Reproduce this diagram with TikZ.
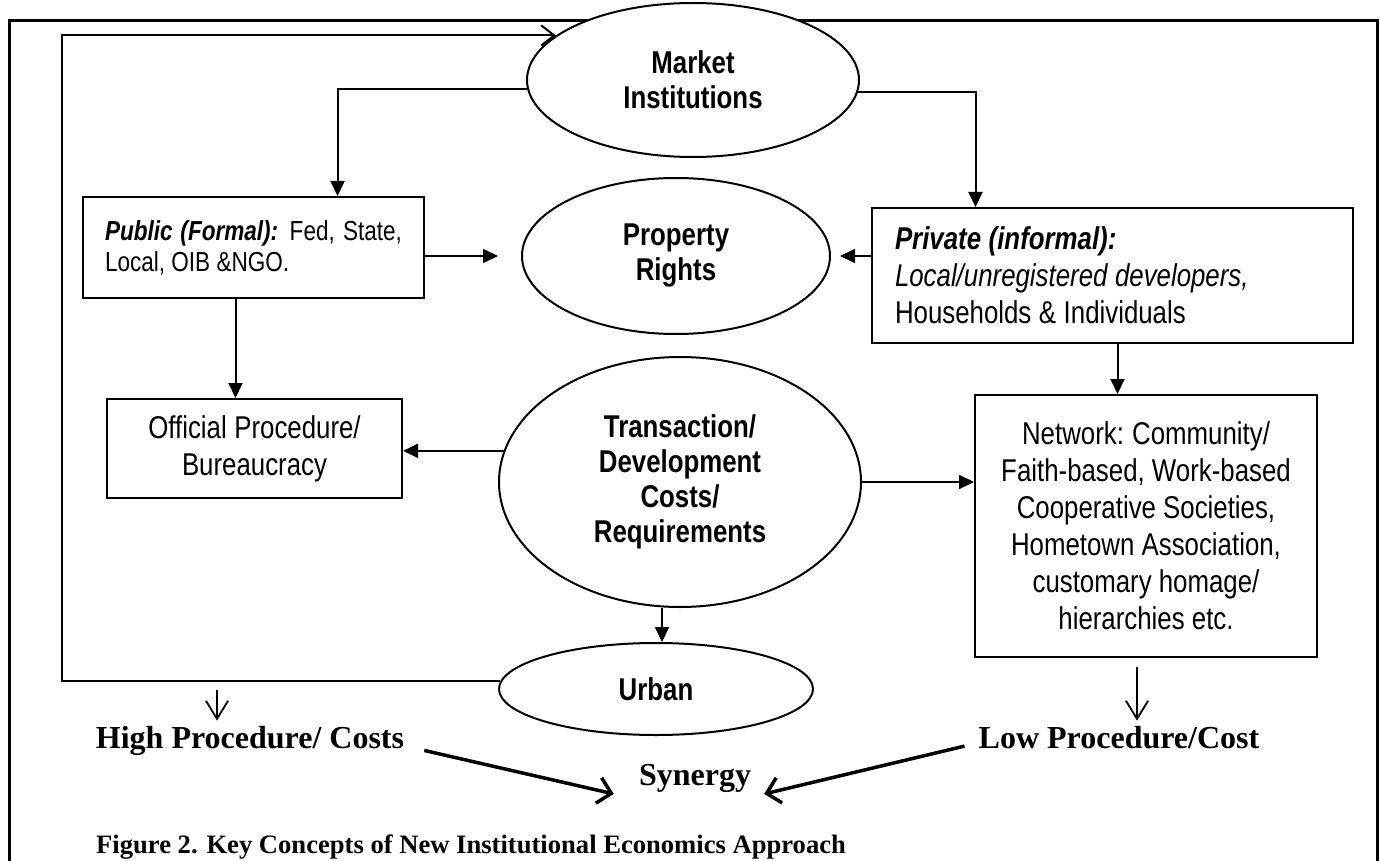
\documentclass[tikz,border=0pt]{standalone}
\usepackage{fontspec}
\newfontfamily\narrowsans{Liberation Sans}[FakeStretch=0.82]
\newfontfamily\timesfont{Liberation Serif}
\usetikzlibrary{shapes.geometric,arrows.meta}
\newcommand\tightsp{\spaceskip=0.24em plus 0.1em minus 0.05em\xspaceskip=0.26em plus 0.1em\relax}

\begin{document}
\begin{tikzpicture}
            [x=1pt, y=-1pt,
            every node/.style={inner sep=0pt},
            ellbox/.style={ellipse, draw=black, line width=2pt, fill=white, align=center,
                font=\narrowsans\bfseries\fontsize{31.5}{35}\selectfont},
            rectbox/.style={rectangle, draw=black, line width=2pt, fill=white,
                font=\narrowsans\fontsize{31.5}{37}\selectfont},
            outcome/.style={font=\timesfont\bfseries\fontsize{32}{36}\selectfont, anchor=base},
            arr/.style={line width=2pt, -{Triangle[length=15pt,width=14pt]}},
            fbarr/.style={line width=2pt, -{Straight Barb[length=13pt,width=20pt]}},
            downarr/.style={line width=1.8pt, -{Straight Barb[length=18pt,width=22pt]}},
            synarr/.style={line width=3.5pt, -{Straight Barb[length=13pt,width=26pt]}}]
            \useasboundingbox (0,0) rectangle (1381,861);
            % outer frame
            \draw[line width=3pt] (9,861) -- (9,21) -- (1377,21) -- (1377,861);
            \coordinate (fbx) at (62,0);

            \node [ellbox, minimum width=332pt, minimum height=154pt] (market) at (693,80) {Market\\Institutions};
            \node [ellbox, minimum width=308pt, minimum height=156pt] (prop) at (676,256) {Property\\Rights};
            \node [ellbox, minimum width=362pt, minimum height=250pt] (trans) at (680,482)
                {Transaction/\\Development\\Costs/\\Requirements};
            \node [ellbox, minimum width=314pt, minimum height=92pt] (urban) at (656,689) {Urban};

            \node [rectbox, minimum width=341pt, minimum height=101pt, text width=297pt, align=justify,
                font=\narrowsans\fontsize{27.5}{31}\selectfont] (public) at (253.5,247.5)
                {{\bfseries\itshape Public (Formal):} Fed, State, Local, OIB \&NGO.};
            \node [rectbox, minimum width=481pt, minimum height=135pt, text width=435pt, align=left] (private) at (1112.5,275.5)
                {\tightsp{\bfseries\itshape Private (informal):}\\{\itshape Local/unregistered developers,}\\Households \& Individuals};
            \node [rectbox, minimum width=295pt, minimum height=99pt, align=center] (official) at (254.5,448.5)
                {\tightsp Official Procedure/\\Bureaucracy};
            \node [rectbox, minimum width=342pt, minimum height=262pt, align=center] (network) at (1146,526)
                {\tightsp Network: Community/\\Faith-based, Work-based\\Cooperative Societies,\\Hometown Association,\\customary homage/\\hierarchies etc.};

            \node [outcome] (high) at (250,748) {High Procedure/ Costs};
            \node [outcome] (low) at (1119,748) {Low Procedure/Cost};
            \node [outcome] (syn) at (695,785) {Synergy};
            \node [anchor=base west, font=\timesfont\bfseries\fontsize{26.6}{30}\selectfont] (caption) at (96,853)
                {Figure 2. Key Concepts of New Institutional Economics Approach};

            \draw[arr] (market.183) -| ([xshift=84pt]public.north);
            \draw[arr] (market.-4) -| ([xshift=-137pt]private.north);
            \draw[arr] (public.east |- prop.west) -- ([xshift=-23pt]prop.west);
            \draw[arr] (private.west |- prop.east) -- ([xshift=9pt]prop.east);
            \draw[arr] ([xshift=-18pt]public.south) -- ([xshift=-18pt]public.south |- official.north);
            \draw[arr] ([xshift=5pt]private.south) -- ([xshift=5pt]private.south |- network.north);
            \draw[arr] (trans.170) -- (trans.170 -| official.east);
            \draw[arr] (trans.east) -- (network.west |- trans.east);
            \draw[arr] ([xshift=-18pt]trans.south) -- ([xshift=-18pt]trans.south |- urban.north);
            % feedback loop
            \draw[fbarr] (urban.177) -| (market.162 -| fbx) -- (market.162);

            \coordinate (hightop) at (217,690);
            \draw[downarr] (hightop) -- ([yshift=5pt]hightop |- high.north);
            \draw[downarr] ([xshift=-9pt,yshift=-9pt]network.south) -- ([yshift=5pt]1137,0 |- low.north);
            \draw[synarr] ([xshift=20pt,yshift=-10pt]high.east) -- ([xshift=-25pt,yshift=-16pt]syn.west);
            \draw[synarr] ([xshift=-14pt,yshift=-9pt]low.west) -- ([xshift=13pt,yshift=-16pt]syn.east);
\end{tikzpicture}
\end{document}
